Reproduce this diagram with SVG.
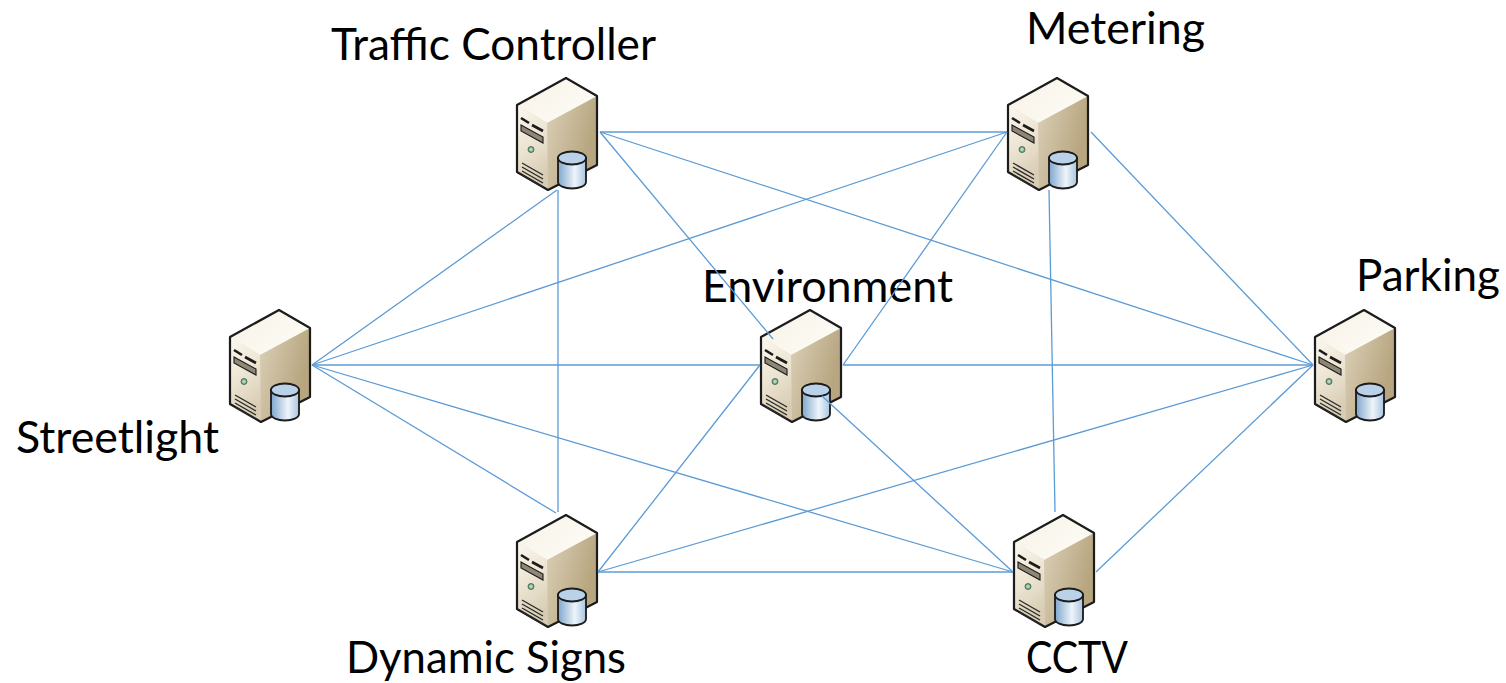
<svg xmlns="http://www.w3.org/2000/svg" width="1506" height="683" viewBox="0 0 1506 683">
<style>
text{font-family:"Lato","Open Sans",sans-serif;font-size:44px;fill:#000}
.e{stroke:#1a1a1a;stroke-width:2.2;stroke-linejoin:round}
.thin{stroke:#2a2a2a;stroke-width:1.4;fill:none}
#connectors line{stroke:#5b9bd5;stroke-width:1.3}
use{filter:url(#soft)}
</style>
<defs>
<filter id="soft" x="-5%" y="-5%" width="110%" height="110%"><feGaussianBlur stdDeviation="0.45"/></filter>
<linearGradient id="front" x1="0" y1="0" x2="0.3" y2="1"><stop offset="0" stop-color="#fbf8f0"/><stop offset="0.5" stop-color="#eee6d4"/><stop offset="1" stop-color="#d8cdb4"/></linearGradient>
<linearGradient id="side" x1="0" y1="0" x2="1" y2="0.35"><stop offset="0" stop-color="#f1ebdc"/><stop offset="1" stop-color="#b8a680"/></linearGradient>
<linearGradient id="topf" x1="0" y1="0" x2="1" y2="0.6"><stop offset="0" stop-color="#f7f2e6"/><stop offset="1" stop-color="#fdfbf6"/></linearGradient>
<linearGradient id="cyl" x1="0" y1="0" x2="1" y2="0"><stop offset="0" stop-color="#7ea6cc"/><stop offset="0.6" stop-color="#eef4fa"/><stop offset="1" stop-color="#a9c5e0"/></linearGradient>
<radialGradient id="led"><stop offset="0" stop-color="#d6ead9"/><stop offset="1" stop-color="#5d9a75"/></radialGradient>
<g id="server">
<path d="M50 0L81 18L81 87L32 112L1 94L1 27Z" fill="url(#side)"/>
<path d="M50 0L81 18L31 45L1 27Z" fill="url(#topf)"/>
<path d="M1 27L31 45L32 112L1 94Z" fill="url(#front)"/>
<path d="M50 0L81 18L81 87L32 112L1 94L1 27Z" fill="none" class="e"/>
<path d="M5 40L13 45M16 47L27 53" stroke="#1a1a1a" stroke-width="2.6" fill="none"/>
<path d="M5 47L27 59L27 65L5 53Z" fill="#8f8775" stroke="#1a1a1a" stroke-width="1.1"/>
<circle cx="15" cy="71.5" r="3" fill="url(#led)" stroke="#3c5f4a" stroke-width="0.8"/>
<path class="thin" d="M6 85L27 97M6 89L27 101M6 93L27 105M6 97L27 109"/>
<path d="M42 80V104A14 6.5 0 0 0 70 104V80Z" fill="url(#cyl)" stroke="#1a1a1a" stroke-width="1.8"/>
<ellipse cx="56" cy="80" rx="14" ry="6.5" fill="#b9d2ea" stroke="#1a1a1a" stroke-width="1.8"/>
</g>
</defs>
<rect width="1506" height="683" fill="#fff"/>
<g id="traffic-controller"><use href="#server" x="516" y="78"/><text x="331" y="60" textLength="325" lengthAdjust="spacingAndGlyphs">Traffic Controller</text></g>
<g id="metering"><use href="#server" x="1007" y="78"/><text x="1026" y="44" textLength="179" lengthAdjust="spacingAndGlyphs">Metering</text></g>
<g id="streetlight"><use href="#server" x="229" y="310"/><text x="16" y="453" textLength="203" lengthAdjust="spacingAndGlyphs">Streetlight</text></g>
<g id="environment"><use href="#server" x="760" y="310"/><text x="702" y="302" textLength="251" lengthAdjust="spacingAndGlyphs">Environment</text></g>
<g id="parking"><use href="#server" x="1314" y="310"/><text x="1356" y="291" textLength="144" lengthAdjust="spacingAndGlyphs">Parking</text></g>
<g id="dynamic-signs"><use href="#server" x="516" y="515"/><text x="346" y="673" textLength="280" lengthAdjust="spacingAndGlyphs">Dynamic Signs</text></g>
<g id="cctv"><use href="#server" x="1013" y="515"/><text x="1026" y="673" textLength="102" lengthAdjust="spacingAndGlyphs">CCTV</text></g>
<g id="connectors">
<line x1="600" y1="132" x2="1007" y2="132"/>
<line x1="600" y1="132" x2="1313" y2="365"/>
<line x1="600" y1="132" x2="773" y2="339"/>
<line x1="557" y1="190" x2="312" y2="365"/>
<line x1="558" y1="190" x2="558" y2="512"/>
<line x1="1007" y1="132" x2="312" y2="365"/>
<line x1="1007" y1="132" x2="843" y2="365"/>
<line x1="1091" y1="132" x2="1313" y2="365"/>
<line x1="1049" y1="190" x2="1055" y2="512"/>
<line x1="312" y1="365" x2="760" y2="365"/>
<line x1="312" y1="365" x2="556" y2="513"/>
<line x1="312" y1="365" x2="1013" y2="572"/>
<line x1="843" y1="365" x2="1313" y2="365"/>
<line x1="760" y1="365" x2="598" y2="572"/>
<line x1="822" y1="396" x2="1013" y2="572"/>
<line x1="598" y1="572" x2="1013" y2="572"/>
<line x1="598" y1="572" x2="1313" y2="365"/>
<line x1="1096" y1="572" x2="1313" y2="365"/>
</g>
</svg>
